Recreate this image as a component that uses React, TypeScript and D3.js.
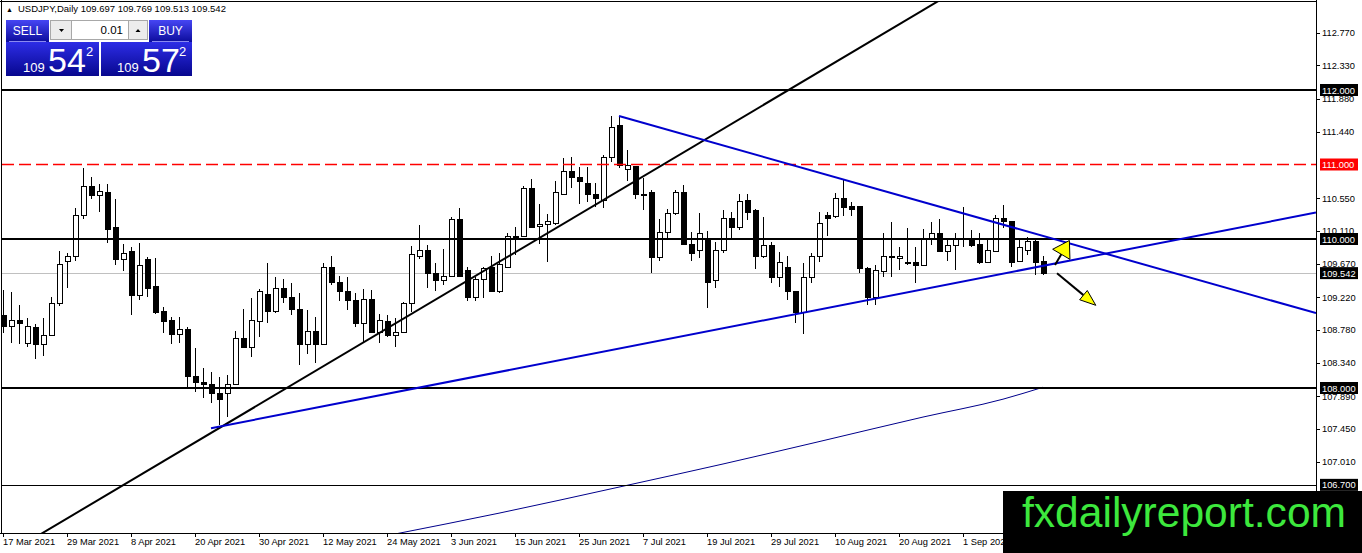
import React from "react";
import * as d3 from "d3";

// USDJPY daily, 17 Mar 2021 .. 15 Sep 2021
const opens = [
  108.97, 108.83, 108.91, 108.6, 108.81, 108.59, 108.7, 109.13, 109.7, 109.76,
  110.32, 110.7, 110.58, 110.63, 110.15, 109.72, 109.83, 109.24, 109.72, 109.36,
  109.03, 108.9, 108.72, 108.78, 108.15, 108.08, 108.05, 107.93, 107.92, 108.05,
  108.66, 108.55, 108.89, 109.26, 109.03, 109.33, 109.21, 109.06, 108.59, 108.76,
  108.59, 109.62, 109.42, 109.29, 109.17, 108.86, 109.19, 108.74, 108.89, 108.71,
  108.74, 109.13, 109.76, 109.84, 109.54, 109.44, 109.5, 110.26, 109.58, 109.22,
  109.46, 109.62, 109.29, 109.62, 110.03, 110.04, 110.68, 110.17, 110.19, 110.21,
  110.6, 110.91, 110.83, 110.75, 110.6, 110.52, 111.1, 111.52, 110.93, 110.97,
  110.6, 110.62, 109.75, 110.09, 110.34, 110.62, 109.93, 109.84, 110.01, 109.44,
  109.84, 110.27, 110.15, 110.52, 110.38, 109.77, 109.91, 109.48, 109.62, 109.29,
  109.01, 109.48, 109.76, 110.32, 110.3, 110.55, 110.43, 110.43, 109.61, 109.22,
  109.57, 109.75, 109.74, 109.69, 109.68, 109.64, 110.0, 110.07, 109.83, 109.91,
  110.0, 110.01, 109.92, 109.68, 109.83, 110.27, 110.23, 109.7, 109.85, 109.97,
  109.697,
];
const highs = [
  109.32, 109.29, 109.11, 108.94, 108.86, 108.94, 109.22, 109.84, 109.81, 110.42,
  110.95, 110.83, 110.74, 110.74, 110.54, 109.93, 109.89, 109.95, 109.76, 109.75,
  109.09, 108.95, 108.95, 108.82, 108.54, 108.27, 108.21, 108.15, 108.17, 108.76,
  109.06, 109.21, 109.33, 109.68, 109.49, 109.46, 109.41, 109.28, 109.05, 108.95,
  109.68, 109.77, 109.5, 109.49, 109.28, 109.33, 109.31, 109.0, 108.98, 108.94,
  109.15, 109.91, 110.19, 109.92, 109.68, 109.87, 110.3, 110.42, 109.62, 109.49,
  109.62, 109.77, 109.81, 110.08, 110.16, 110.71, 110.81, 110.47, 110.34, 110.78,
  111.09, 111.1, 110.97, 110.97, 110.75, 111.13, 111.65, 111.65, 111.19, 110.98,
  110.82, 110.66, 110.27, 110.4, 110.66, 110.72, 110.09, 110.35, 110.11, 109.96,
  110.39, 110.36, 110.6, 110.6, 110.4, 110.3, 109.96, 109.83, 109.77, 109.29,
  109.68, 109.81, 110.36, 110.36, 110.62, 110.81, 110.5, 110.44, 109.63, 109.65,
  110.08, 110.23, 109.89, 110.15, 109.89, 110.13, 110.23, 110.27, 109.99, 110.08,
  110.43, 110.12, 110.08, 109.99, 110.32, 110.46, 110.24, 110.0, 110.03, 109.99,
  109.769,
];
const lows = [
  108.74, 108.6, 108.59, 108.55, 108.39, 108.43, 108.7, 109.1, 109.34, 109.7,
  110.27, 110.54, 110.36, 109.95, 109.65, 109.57, 108.98, 109.18, 109.22, 108.99,
  108.74, 108.59, 108.6, 108.0, 107.95, 107.87, 107.8, 107.5, 107.61, 108.05,
  108.55, 108.42, 108.68, 108.87, 109.01, 109.14, 108.98, 108.31, 108.46, 108.34,
  108.59, 109.38, 109.17, 109.05, 108.82, 108.6, 108.74, 108.6, 108.68, 108.55,
  108.74, 109.02, 109.73, 109.34, 109.3, 109.38, 109.5, 109.49, 109.17, 109.17,
  109.21, 109.29, 109.28, 109.62, 109.79, 110.03, 110.15, 109.93, 109.69, 110.19,
  110.59, 110.68, 110.47, 110.5, 110.43, 110.42, 111.03, 110.95, 110.78, 110.54,
  110.39, 109.54, 109.7, 110.01, 110.32, 109.92, 109.7, 109.75, 109.07, 109.34,
  109.81, 110.01, 110.12, 110.26, 109.6, 109.75, 109.41, 109.36, 109.18, 108.87,
  108.72, 109.41, 109.69, 110.04, 110.28, 110.31, 110.31, 109.54, 109.11, 109.11,
  109.49, 109.49, 109.58, 109.65, 109.41, 109.64, 109.92, 109.83, 109.7, 109.58,
  109.89, 109.89, 109.66, 109.68, 109.83, 110.15, 109.62, 109.69, 109.79, 109.52,
  109.513,
];
const closes = [
  108.82, 108.91, 108.86, 108.82, 108.59, 108.71, 109.14, 109.66, 109.76, 110.32,
  110.7, 110.58, 110.64, 110.13, 109.72, 109.81, 109.24, 109.64, 109.34, 109.02,
  108.89, 108.72, 108.78, 108.15, 108.07, 108.05, 107.93, 107.85, 108.05, 108.67,
  108.55, 108.91, 109.3, 109.03, 109.33, 109.21, 109.05, 108.59, 108.76, 108.59,
  109.62, 109.42, 109.3, 109.17, 108.86, 109.19, 108.74, 108.9, 108.7, 108.74,
  109.13, 109.79, 109.84, 109.54, 109.44, 109.5, 110.26, 109.49, 109.22, 109.46,
  109.6, 109.29, 109.66, 110.03, 110.04, 110.68, 110.16, 110.2, 110.24, 110.62,
  110.91, 110.83, 110.77, 110.6, 110.54, 111.1, 111.5, 110.98, 110.98, 110.6,
  110.59, 109.75, 110.09, 110.34, 110.62, 109.93, 109.81, 110.07, 109.42, 109.84,
  110.28, 110.15, 110.51, 110.36, 109.76, 109.91, 109.48, 109.68, 109.29, 109.01,
  109.48, 109.77, 110.21, 110.28, 110.55, 110.42, 110.4, 109.6, 109.22, 109.58,
  109.76, 109.76, 109.77, 109.68, 109.65, 109.99, 110.07, 109.83, 109.91, 109.99,
  110.01, 109.91, 109.68, 109.84, 110.27, 110.23, 109.69, 109.89, 109.97, 109.68,
  109.542,
];

// time axis labels (every 8th bar)
const dateLabels = [
  "17 Mar 2021", "29 Mar 2021", "8 Apr 2021", "20 Apr 2021", "30 Apr 2021",
  "12 May 2021", "24 May 2021", "3 Jun 2021", "15 Jun 2021", "25 Jun 2021",
  "7 Jul 2021", "19 Jul 2021", "29 Jul 2021", "10 Aug 2021", "20 Aug 2021",
  "1 Sep 2021",
];
const dateTickBars = [0, 8, 16, 24, 32, 40, 48, 56, 64, 72, 80, 88, 96, 104, 112, 120];

const priceTicks = [
  112.77, 112.33, 111.88, 111.44, 110.55, 110.11, 109.67, 109.22, 108.78,
  108.34, 107.89, 107.45, 107.01,
];

// horizontal objects
const thickLevels = [112, 110, 108];
const thinLevel = 106.7;
const redLevel = 111;
const bidPrice = 109.542;
const boxedLevels = [112, 111, 110, 109.542, 108, 106.7];

// trendlines (bar index, price)
const blackTrend = [{ bar: 27, price: 107.46 }, { bar: 88, price: 111.35 }];
const supportTrend = [{ bar: 26, price: 107.46 }, { bar: 99, price: 108.99 }];
const resistTrend = [{ bar: 77, price: 111.65 }, { bar: 105, price: 110.8 }];

// slow moving average read at a few bars
const maBars = [49, 62, 77, 90, 102, 115, 125, 130];
const maValues = [106.04, 106.32, 106.67, 106.98, 107.28, 107.61, 107.85, 108.01];

// annotation arrows (tail, tip)
const upArrow = [{ bar: 131.5, price: 109.65 }, { bar: 133.3, price: 109.98 }];
const downArrow = [{ bar: 131.75, price: 109.54 }, { bar: 136.6, price: 109.11 }];

const headerQuote = ["109.697", "109.769", "109.513", "109.542"];
const lotSize = "0.01";
const sellParts = ["109", "54", "2"];
const buyParts = ["109", "57", "2"];

const W = 1362;
const H = 553;
const plot = { left: 2, top: 2, right: 1316, bottom: 533 };
const axisFont = "'Liberation Sans', Arial, sans-serif";

type P = { bar: number; price: number };

const App: React.FC = () => {
  const x = d3.scaleLinear().domain([0, 130]).range([3, 1043]);
  const y = d3.scaleLinear().domain([108, 112]).range([388, 90]);

  const priceAt = (a: P, b: P, bar: number) =>
    a.price + ((b.price - a.price) * (bar - a.bar)) / (b.bar - a.bar);
  const rightBar = x.invert(plot.right);
  const leftBar = x.invert(0);
  const crisp = (v: number) => Math.round(v) + 0.5;

  const maLine = d3
    .line<number>()
    .x((_, i) => x(maBars[i]))
    .y((d) => y(d))
    .curve(d3.curveMonotoneX);

  const arrow = (pts: P[], key: string, half: number) => {
    const x1 = x(pts[0].bar), y1 = y(pts[0].price);
    const x2 = x(pts[1].bar), y2 = y(pts[1].price);
    const ang = Math.atan2(y2 - y1, x2 - x1);
    const len = 16;
    const bx = x2 - len * Math.cos(ang), by = y2 - len * Math.sin(ang);
    const nx = -Math.sin(ang) * half, ny = Math.cos(ang) * half;
    return (
      <g key={key}>
        <line x1={x1} y1={y1} x2={bx} y2={by} stroke="#000" strokeWidth={2} />
        <polygon
          points={`${x2},${y2} ${bx + nx},${by + ny} ${bx - nx},${by - ny}`}
          fill="#ffff00"
          stroke="#000"
          strokeWidth={1}
        />
      </g>
    );
  };

  return (
    <svg
      width={W}
      height={H}
      viewBox={`0 0 ${W} ${H}`}
      style={{ position: "absolute", left: 0, top: 0, background: "#fff" }}
      fontFamily={axisFont}
    >
      <defs>
        <clipPath id="plotClip">
          <rect x={plot.left} y={plot.top} width={plot.right - plot.left} height={plot.bottom - plot.top} />
        </clipPath>
        <linearGradient id="btnBlue" x1="0" y1="0" x2="0" y2="1">
          <stop offset="0" stopColor="#4646f4" />
          <stop offset="1" stopColor="#0c0c9c" />
        </linearGradient>
        <linearGradient id="bigBlue" x1="0" y1="0" x2="0" y2="1">
          <stop offset="0" stopColor="#2d2de6" />
          <stop offset="1" stopColor="#07078e" />
        </linearGradient>
      </defs>
      <rect x={0} y={0} width={W} height={H} fill="#fff" />

      <g clipPath="url(#plotClip)">
        {/* bid line */}
        <line x1={plot.left} x2={plot.right} y1={crisp(y(bidPrice))} y2={crisp(y(bidPrice))} stroke="#c0c0c0" />

        {/* moving average */}
        <path d={maLine(maValues) || ""} fill="none" stroke="#00008b" strokeWidth={1} />

        {/* candles */}
        <g shapeRendering="crispEdges">
          {opens.map((o, i) => {
            const c = closes[i];
            const cx = Math.round(x(i)) + 0.5;
            const top = y(Math.max(o, c));
            const bot = y(Math.min(o, c));
            return (
              <g key={i}>
                <line x1={cx} x2={cx} y1={y(highs[i])} y2={y(lows[i])} stroke="#000" />
                <rect
                  x={cx - 2.5}
                  y={top}
                  width={5}
                  height={Math.max(bot - top, 1)}
                  fill={c >= o ? "#fff" : "#000"}
                  stroke="#000"
                />
              </g>
            );
          })}
        </g>

        {/* horizontal levels */}
        {thickLevels.map((p) => (
          <line key={p} x1={plot.left} x2={plot.right} y1={y(p)} y2={y(p)} stroke="#000" strokeWidth={2} />
        ))}
        <line x1={plot.left} x2={plot.right} y1={crisp(y(thinLevel))} y2={crisp(y(thinLevel))} stroke="#000" />
        <line
          x1={plot.left}
          x2={plot.right}
          y1={y(redLevel)}
          y2={y(redLevel)}
          stroke="#ff0000"
          strokeWidth={1.4}
          strokeDasharray="12,5"
        />

        {/* trendlines */}
        <line
          x1={x(leftBar)}
          y1={y(priceAt(blackTrend[0], blackTrend[1], leftBar))}
          x2={x(rightBar)}
          y2={y(priceAt(blackTrend[0], blackTrend[1], rightBar))}
          stroke="#000"
          strokeWidth={2}
        />
        <line
          x1={x(supportTrend[0].bar)}
          y1={y(supportTrend[0].price)}
          x2={x(rightBar)}
          y2={y(priceAt(supportTrend[0], supportTrend[1], rightBar))}
          stroke="#0000cd"
          strokeWidth={2}
        />
        <line
          x1={x(resistTrend[0].bar)}
          y1={y(resistTrend[0].price)}
          x2={x(rightBar)}
          y2={y(priceAt(resistTrend[0], resistTrend[1], rightBar))}
          stroke="#0000cd"
          strokeWidth={2}
        />

        {arrow(upArrow, "up", 10)}
        {arrow(downArrow, "down", 6)}
      </g>

      {/* frame */}
      <g shapeRendering="crispEdges" stroke="#000" fill="none">
        <line x1={0} x2={plot.right} y1={1.5} y2={1.5} />
        <line x1={1.5} x2={1.5} y1={0} y2={plot.bottom} />
        <line x1={plot.right + 0.5} x2={plot.right + 0.5} y1={0} y2={plot.bottom + 1} />
        <line x1={0} x2={plot.right + 1} y1={plot.bottom + 0.5} y2={plot.bottom + 0.5} />
      </g>

      {/* price axis */}
      {priceTicks.map((p) => (
        <g key={p}>
          <line x1={plot.right} x2={plot.right + 4} y1={crisp(y(p))} y2={crisp(y(p))} stroke="#000" />
          <text x={plot.right + 6} y={y(p) + 3.5} fontSize={9.3} fill="#000">
            {p.toFixed(3)}
          </text>
        </g>
      ))}
      {boxedLevels.map((p) => (
        <g key={p}>
          <rect x={plot.right + 4} y={y(p) - 6} width={38} height={12} fill={p === redLevel ? "#ff0000" : "#000"} />
          <text x={plot.right + 6} y={y(p) + 3.5} fontSize={9.3} fill="#fff">
            {p.toFixed(3)}
          </text>
        </g>
      ))}

      {/* time axis */}
      {dateTickBars.map((b, i) => (
        <g key={b}>
          <line x1={crisp(x(b))} x2={crisp(x(b))} y1={plot.bottom} y2={plot.bottom + 4} stroke="#000" />
          <text x={x(b)} y={545} fontSize={9.3} fill="#000">
            {dateLabels[i]}
          </text>
        </g>
      ))}

      {/* header */}
      <text x={6} y={12} fontSize={7} fill="#000">▲</text>
      <text x={18} y={12} fontSize={9.5} fill="#000">
        {`USDJPY,Daily  ${headerQuote.join(" ")}`}
      </text>

      {/* one click trading panel */}
      <g>
        <rect x={6} y={20} width={43} height={22} fill="url(#btnBlue)" />
        <rect x={149} y={20} width={43} height={22} fill="url(#btnBlue)" />
        <rect x={6} y={42} width={93} height={34} fill="url(#bigBlue)" />
        <rect x={101} y={42} width={91} height={34} fill="url(#bigBlue)" />
        <line x1={9} x2={46} y1={41.5} y2={41.5} stroke="#8a8af0" />
        <line x1={152} x2={189} y1={41.5} y2={41.5} stroke="#8a8af0" />
        <text x={27.5} y={35} fontSize={12} fill="#fff" textAnchor="middle">SELL</text>
        <text x={170.5} y={35} fontSize={12} fill="#fff" textAnchor="middle">BUY</text>

        <rect x={50.5} y={20.5} width={21} height={19} fill="#ececec" stroke="#a8a8a8" />
        <rect x={71.5} y={20.5} width={57} height={19} fill="#fff" stroke="#a8a8a8" />
        <rect x={128.5} y={20.5} width={19} height={19} fill="#ececec" stroke="#a8a8a8" />
        <polygon points="59,29 64,29 61.5,32" fill="#000" />
        <polygon points="135.5,32 140.5,32 138,29" fill="#000" />
        <text x={123} y={34} fontSize={11.5} fill="#000" textAnchor="end">{lotSize}</text>

        <text x={23} y={72} fontSize={13} fill="#fff">{sellParts[0]}</text>
        <text x={48} y={72} fontSize={34} fill="#fff">{sellParts[1]}</text>
        <text x={86} y={56} fontSize={13} fill="#fff">{sellParts[2]}</text>
        <text x={117} y={72} fontSize={13} fill="#fff">{buyParts[0]}</text>
        <text x={142} y={72} fontSize={34} fill="#fff">{buyParts[1]}</text>
        <text x={179} y={56} fontSize={13} fill="#fff">{buyParts[2]}</text>
      </g>

      {/* watermark */}
      <rect x={1003} y={491} width={W - 1003} height={H - 491} fill="#000" />
      <text
        x={1022}
        y={527}
        fontSize={42}
        fill="#3de83d"
        textLength={324}
        lengthAdjust="spacingAndGlyphs"
        fontFamily="'Liberation Sans', Arial, sans-serif"
      >
        fxdailyreport.com
      </text>
    </svg>
  );
};

export default App;
